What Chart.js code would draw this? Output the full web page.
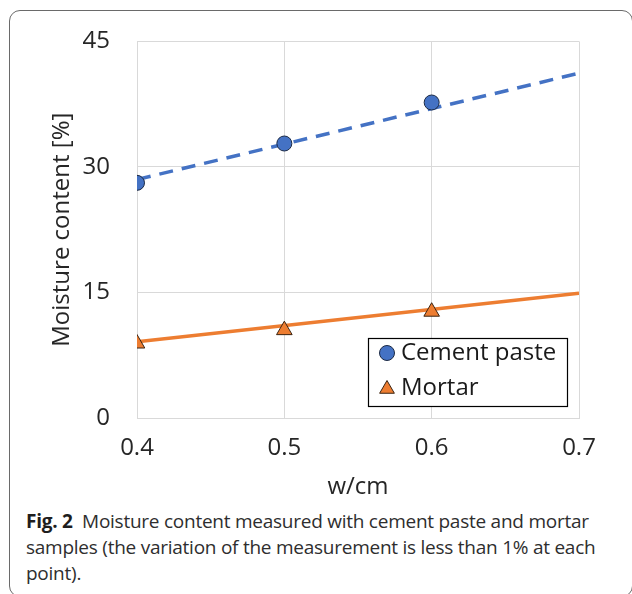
<!DOCTYPE html>
<html>
<head>
<meta charset="utf-8">
<script src="https://cdn.jsdelivr.net/npm/chart.js@4.4.1/dist/chart.umd.min.js"></script>
<style>
  html, body { margin: 0; padding: 0; background: #fff; }
  body { width: 632px; height: 594px; position: relative; overflow: hidden; }
  #frame { position: absolute; left: 9px; top: 10px; width: 624px; height: 587px;
           border: 1.5px solid #6a6a6a; border-radius: 11px; box-sizing: border-box; }
  #wrap { position: absolute; left: 0; top: 0; width: 632px; height: 505px; }
  #caption { position: absolute; left: 26px; top: 508px; width: 604px; white-space: nowrap;
             font-family: "Open Sans", sans-serif; font-size: 19px; line-height: 26px;
             color: #2e2e2e; letter-spacing: -0.25px; }
  #caption b { color: #1e1e1e; font-weight: 700; }
</style>
</head>
<body>
<div id="frame"></div>
<div id="wrap"><canvas id="c" width="632" height="505"></canvas></div>
<div id="caption"><b>Fig. 2</b>&nbsp; Moisture content measured with cement paste and mortar<br>samples (the variation of the measurement is less than 1% at each<br>point).</div>
<script>
// ---- data ----
const wcm = [0.4, 0.5, 0.6];
const cementPaste = [28.1, 32.8, 37.7];
const mortar = [8.9, 10.5, 12.7];
const trendX = [0.4, 0.7];
const cementTrend = [28.5, 41.2];
const mortarTrend = [9.1, 14.9];
const xTicks = [0.4, 0.5, 0.6, 0.7];
const yTicks = [0, 15, 30, 45];
const seriesNames = ['Cement paste', 'Mortar'];

const pts = (xs, ys) => xs.map((x, i) => ({ x: x, y: ys[i] }));
const FONT = '"Open Sans", sans-serif';

const insideLegend = {
  id: 'insideLegend',
  afterDraw(chart) {
    const ctx = chart.ctx, a = chart.chartArea;
    const w = 199, h = 68;
    const x0 = a.right - 12 - w, y0 = a.bottom - 12 - h;
    ctx.save();
    ctx.fillStyle = '#fff';
    ctx.fillRect(x0, y0, w, h);
    ctx.strokeStyle = '#000';
    ctx.lineWidth = 1.2;
    ctx.strokeRect(x0 + 0.5, y0 + 0.5, w, h);
    [0, 1].forEach((di, k) => {
      const ds = chart.data.datasets[di];
      const cy = y0 + 15 + k * 35;
      ctx.fillStyle = ds.backgroundColor;
      ctx.strokeStyle = ds.borderColor;
      ctx.lineWidth = 1;
      Chart.helpers.drawPoint(ctx, { pointStyle: ds.pointStyle, radius: ds.pointStyle === 'triangle' ? 8.5 : 7.5, borderWidth: 1 }, x0 + 19, cy + (k ? 1 : 0));
      ctx.fillStyle = '#1a1a1a';
      ctx.font = '24px ' + FONT;
      ctx.textBaseline = 'middle';
      ctx.textAlign = 'left';
      ctx.fillText(ds.label, x0 + 33, cy);
    });
    ctx.restore();
  }
};

new Chart(document.getElementById('c'), {
  type: 'scatter',
  data: {
    datasets: [
      { label: seriesNames[0], data: pts(wcm, cementPaste), pointStyle: 'circle',
        pointRadius: 7.5, pointHoverRadius: 7.5, backgroundColor: '#4472c4', borderColor: '#1c2a44', borderWidth: 1, showLine: false, order: 1 },
      { label: seriesNames[1], data: pts(wcm, mortar), pointStyle: 'triangle',
        pointRadius: 9, pointHoverRadius: 9, backgroundColor: '#ed7d31', borderColor: '#3b2412', borderWidth: 1, showLine: false, order: 2 },
      { label: 'Cement paste trend', data: pts(trendX, cementTrend), showLine: true, pointRadius: 0,
        borderColor: '#4472c4', backgroundColor: '#4472c4', borderWidth: 3.5, borderDash: [14, 9], order: 3 },
      { label: 'Mortar trend', data: pts(trendX, mortarTrend), showLine: true, pointRadius: 0,
        borderColor: '#ed7d31', backgroundColor: '#ed7d31', borderWidth: 3.5, order: 4 }
    ]
  },
  options: {
    responsive: false,
    animation: false,
    layout: { padding: { top: 38, right: 53, left: 0, bottom: 0 } },
    plugins: { legend: { display: false }, tooltip: { enabled: false } },
    scales: {
      x: {
        type: 'linear', min: 0.4, max: 0.7,
        afterBuildTicks: s => { s.ticks = xTicks.map(v => ({ value: v })); },
        afterFit: s => { s.height = 87; },
        ticks: { padding: 16, color: '#262626', font: { family: FONT, size: 24 },
                 callback: v => v.toFixed(1) },
        grid: { color: '#d9d9d9', lineWidth: 1, drawTicks: false },
        border: { color: '#d9d9d9', width: 1 },
        title: { display: true, text: 'w/cm', color: '#262626', font: { family: FONT, size: 24 },
                 padding: { top: 0, bottom: 3 } }
      },
      y: {
        type: 'linear', min: 0, max: 45,
        afterBuildTicks: s => { s.ticks = yTicks.map(v => ({ value: v })); },
        afterFit: s => { s.width = 137; },
        ticks: { padding: 27, color: '#262626', font: { family: FONT, size: 24 } },
        grid: { color: '#d9d9d9', lineWidth: 1, drawTicks: false },
        border: { color: '#d9d9d9', width: 1 },
        title: { display: true, text: 'Moisture content [%]', color: '#262626', font: { family: FONT, size: 24 },
                 padding: { top: 48, bottom: 0 } }
      }
    }
  },
  plugins: [insideLegend]
});
</script>
</body>
</html>
